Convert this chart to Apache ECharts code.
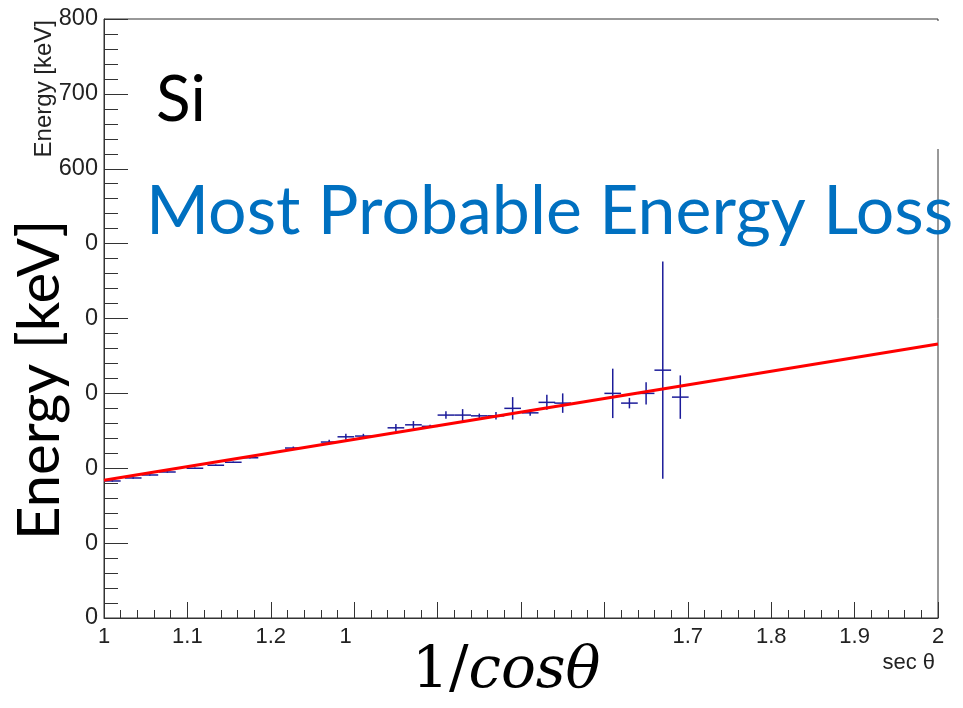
<!DOCTYPE html>
<html>
<head>
<meta charset="utf-8">
<script src="https://cdn.jsdelivr.net/npm/echarts@6/dist/echarts.min.js"></script>
<style>
  html, body { margin: 0; padding: 0; background: #fff; }
  #chart { width: 963px; height: 708px; }
</style>
</head>
<body>
<div id="chart"></div>
<script>
// measured points (sec theta, most probable energy loss in keV)
const xVals = [1.010, 1.035, 1.055, 1.076, 1.109, 1.134, 1.155, 1.175, 1.227, 1.270,
               1.290, 1.311, 1.350, 1.371, 1.391, 1.410, 1.430, 1.450, 1.470, 1.490,
               1.511, 1.531, 1.550, 1.610, 1.630, 1.650, 1.670, 1.691];
const yVals = [183, 187, 191, 195, 200, 204, 208, 214, 227, 235,
               242, 243, 254, 258, 256, 271, 271, 270, 270, 280,
               274, 288, 287, 300, 287, 300, 331, 295];
const xErrs = [0.01, 0.01, 0.01, 0.01, 0.01, 0.01, 0.01, 0.01, 0.01, 0.01,
               0.01, 0.01, 0.01, 0.01, 0.01, 0.01, 0.01, 0.01, 0.01, 0.01,
               0.01, 0.01, 0.01, 0.01, 0.01, 0.01, 0.01, 0.01];
const yErrs = [1, 1, 1, 1, 1, 1, 1, 1, 2, 3,
               4, 3, 5, 5, 2, 5, 8, 3, 5, 15,
               4, 10, 13, 33, 7, 15, 145, 29];

// linear fit drawn across the full range
const fitX = [1, 2];
const fitY = [184, 366];

// tick labels as they show on the picture (partly hidden by the overlaid text boxes)
const xTickLabels = ['1', '1.1', '1.2', '1', '', '', '', '1.7', '1.8', '1.9', '2'];
const yTickLabels = ['0', '0', '0', '0', '0', '0', '600', '700', '800'];

const axisColor = '#333';
const pointColor = '#1c1c9a';
const rootFont = '"Liberation Sans", Arial, sans-serif';
const slideFont = 'Lato, "Open Sans", sans-serif';
const mathFont = '"DejaVu Serif", serif';

const chart = echarts.init(document.getElementById('chart'));

const points = xVals.map((x, i) => [x, yVals[i], xErrs[i], yErrs[i]]);
const fit = fitX.map((x, i) => [x, fitY[i]]);

function errorBar(params, api) {
  const x = api.value(0), y = api.value(1), ex = api.value(2), ey = api.value(3);
  const l = api.coord([x - ex, y]), r = api.coord([x + ex, y]);
  const t = api.coord([x, y + ey]), b = api.coord([x, y - ey]);
  const st = { stroke: pointColor, lineWidth: 1.5 };
  return {
    type: 'group',
    children: [
      { type: 'line', shape: { x1: l[0], y1: l[1], x2: r[0], y2: r[1] }, style: st },
      { type: 'line', shape: { x1: t[0], y1: t[1], x2: b[0], y2: b[1] }, style: st }
    ]
  };
}

chart.setOption({
  animation: false,
  grid: { left: 104, right: 25, top: 19, bottom: 90, show: true, borderColor: axisColor, borderWidth: 1 },
  xAxis: {
    type: 'value', min: 1, max: 2, interval: 0.1,
    name: 'sec θ', nameLocation: 'end', nameGap: -3,
    nameTextStyle: { fontFamily: rootFont, fontSize: 22, color: '#222', align: 'right', verticalAlign: 'top', padding: [34, 0, 0, 0] },
    axisLine: { show: true, onZero: false, lineStyle: { color: axisColor } },
    axisTick: { show: true, inside: true, length: 16, lineStyle: { color: axisColor } },
    minorTick: { show: true, splitNumber: 5, length: 8, lineStyle: { color: axisColor } },
    splitLine: { show: false },
    axisLabel: {
      margin: 8, fontFamily: rootFont, fontSize: 22, color: '#222',
      showMinLabel: true, showMaxLabel: true,
      formatter: (v, i) => {
        const s = xTickLabels[Math.round((v - 1) * 10)];
        return (s === '1' && v > 1.2) ? '{cut|1}' : s;
      },
      rich: { cut: { fontFamily: rootFont, fontSize: 22, color: '#222', padding: [0, 17, 0, 0] } }
    }
  },
  yAxis: {
    type: 'value', min: 0, max: 800, interval: 100,
    axisLine: { show: true, onZero: false, lineStyle: { color: axisColor } },
    axisTick: { show: true, inside: true, length: 24, lineStyle: { color: axisColor } },
    minorTick: { show: true, splitNumber: 5, length: 14, lineStyle: { color: axisColor } },
    splitLine: { show: false },
    axisLabel: {
      margin: 6, fontFamily: rootFont, fontSize: 23.5, color: '#222',
      formatter: (v) => yTickLabels[Math.round(v / 100)]
    }
  },
  graphic: [
    // white text box of the slide overlay hiding the top of the right frame edge
    { type: 'rect', x: 930, y: 21, z: 50, shape: { width: 20, height: 128 }, style: { fill: '#fff' } },
    { type: 'text', x: 44, y: 20, rotation: Math.PI / 2,
      style: { text: 'Energy [keV]', font: '24px ' + rootFont, fill: '#222', align: 'right', verticalAlign: 'middle' } },
    { type: 'text', x: 40, y: 540, rotation: Math.PI / 2,
      style: { text: 'Energy [keV]', font: '58px ' + slideFont, fill: '#000', align: 'left', verticalAlign: 'middle' } },
    { type: 'text', x: 156, y: 100,
      style: { text: 'Si', font: '64px ' + slideFont, fill: '#000', align: 'left', verticalAlign: 'middle' } },
    { type: 'text', x: 146, y: 212, z: 60,
      style: { text: 'Most Probable Energy Loss', font: '68px ' + slideFont, fill: '#0070c0', align: 'left', verticalAlign: 'middle' } },
    { type: 'text', x: 412, y: 672,
      style: {
        text: '{n|1/}{i|cosθ}', align: 'left', verticalAlign: 'middle',
        rich: {
          n: { fontFamily: mathFont, fontSize: 58, fill: '#000' },
          i: { fontFamily: mathFont, fontStyle: 'italic', fontSize: 58, fill: '#000' }
        }
      } }
  ],
  series: [
    {
      type: 'custom', name: 'data', renderItem: errorBar, data: points, z: 3,
      encode: { x: 0, y: 1 }
    },
    {
      type: 'line', name: 'fit', data: fit, showSymbol: false, z: 4,
      lineStyle: { color: '#ff0000', width: 3 }
    }
  ]
});
</script>
</body>
</html>
